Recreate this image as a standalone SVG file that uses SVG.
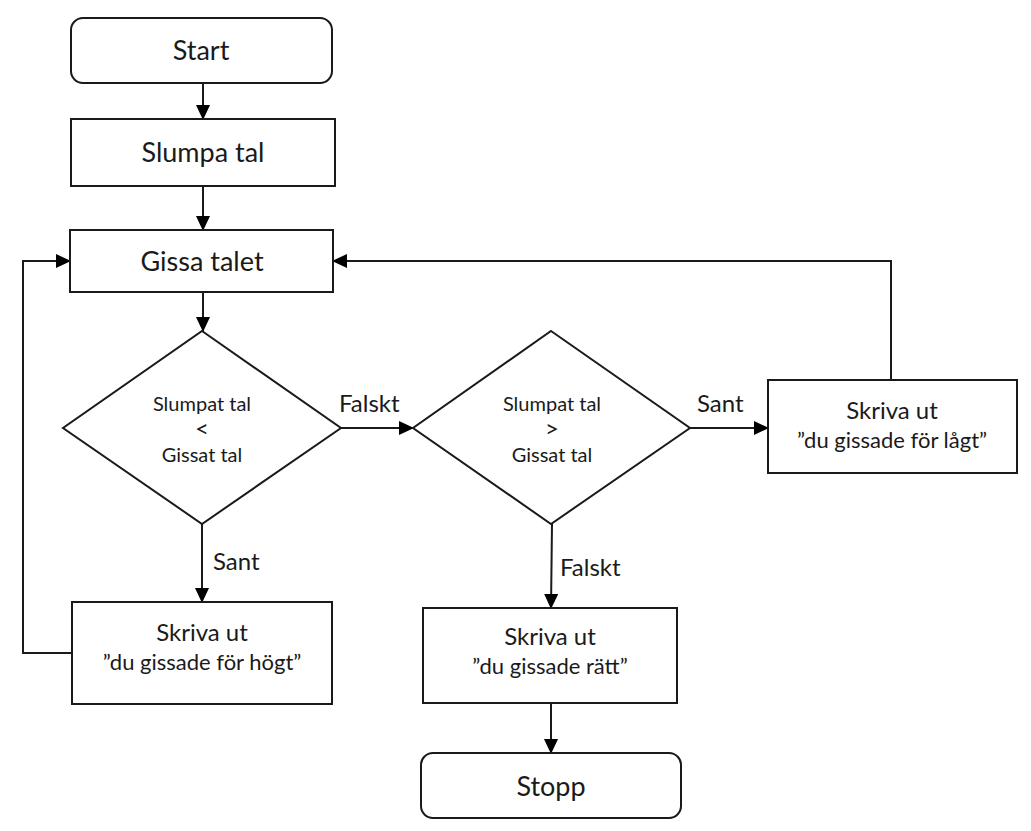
<svg xmlns="http://www.w3.org/2000/svg" width="1031" height="831" viewBox="0 0 1031 831">
<defs>
<marker id="ah" markerWidth="15" markerHeight="14" refX="14" refY="7" orient="auto" markerUnits="userSpaceOnUse">
<path d="M0,0 L15,7 L0,14 Z" fill="#000"/>
</marker>
<style>
.n{fill:#fff;stroke:#1a1a1a;stroke-width:2}
.c{fill:none;stroke:#1a1a1a;stroke-width:2;marker-end:url(#ah)}
text{font-family:Lato,"Open Sans","Liberation Sans",sans-serif;fill:#1a1a1a;text-anchor:middle}
.big{font-size:27px}
.med{font-size:24px}
.sm{font-size:20px}
.op{font-size:24px}
.q{font-size:22px}
.lab{font-size:24px;text-anchor:start}
</style>
</defs>
<rect width="1031" height="831" fill="#fff"/>
<g id="connectors">
<line class="c" x1="203" y1="83" x2="203" y2="119"/>
<line class="c" x1="203" y1="186" x2="203" y2="230"/>
<line class="c" x1="203" y1="292" x2="203" y2="331"/>
<line class="c" x1="341" y1="428" x2="413" y2="428"/>
<line class="c" x1="690" y1="428" x2="768" y2="428"/>
<polyline class="c" points="891,380 891,261 333,261"/>
<line class="c" x1="202" y1="524" x2="202" y2="602"/>
<polyline class="c" points="72,653 23,653 23,261 70,261"/>
<line class="c" x1="552" y1="524" x2="551" y2="608"/>
<line class="c" x1="551" y1="703" x2="551" y2="753"/>
<text class="lab" x="339" y="412">Falskt</text>
<text class="lab" x="697" y="412">Sant</text>
<text class="lab" x="213" y="570">Sant</text>
<text class="lab" x="560" y="576">Falskt</text>
</g>
<g id="start">
<rect class="n" x="71" y="18" width="261" height="65" rx="12"/>
<text class="big" x="201" y="60">Start</text>
</g>
<g id="slumpa">
<rect class="n" x="71" y="119" width="264" height="67"/>
<text class="big" x="203" y="162">Slumpa tal</text>
</g>
<g id="gissa">
<rect class="n" x="70" y="230" width="263" height="62"/>
<text class="big" x="202" y="271">Gissa talet</text>
</g>
<g id="dec1">
<polygon class="n" points="202,331 341,428 202,524 63,428"/>
<text class="sm" x="202" y="411">Slumpat tal</text>
<text class="op" x="202" y="437">&lt;</text>
<text class="sm" x="202" y="462">Gissat tal</text>
</g>
<g id="dec2">
<polygon class="n" points="551,331 690,428 551,524 413,428"/>
<text class="sm" x="552" y="411">Slumpat tal</text>
<text class="op" x="552" y="437">&gt;</text>
<text class="sm" x="552" y="462">Gissat tal</text>
</g>
<g id="lagt">
<rect class="n" x="768" y="380" width="249" height="93"/>
<text class="med" x="892" y="419">Skriva ut</text>
<text class="q" x="892" y="448">”du gissade för lågt”</text>
</g>
<g id="hogt">
<rect class="n" x="72" y="602" width="260" height="102"/>
<text class="med" x="202" y="641">Skriva ut</text>
<text class="q" x="202" y="670">”du gissade för högt”</text>
</g>
<g id="ratt">
<rect class="n" x="423" y="608" width="254" height="95"/>
<text class="med" x="550" y="645">Skriva ut</text>
<text class="q" x="550" y="674">”du gissade rätt”</text>
</g>
<g id="stopp">
<rect class="n" x="421" y="753" width="260" height="65" rx="12"/>
<text class="big" x="551" y="796">Stopp</text>
</g>
</svg>
